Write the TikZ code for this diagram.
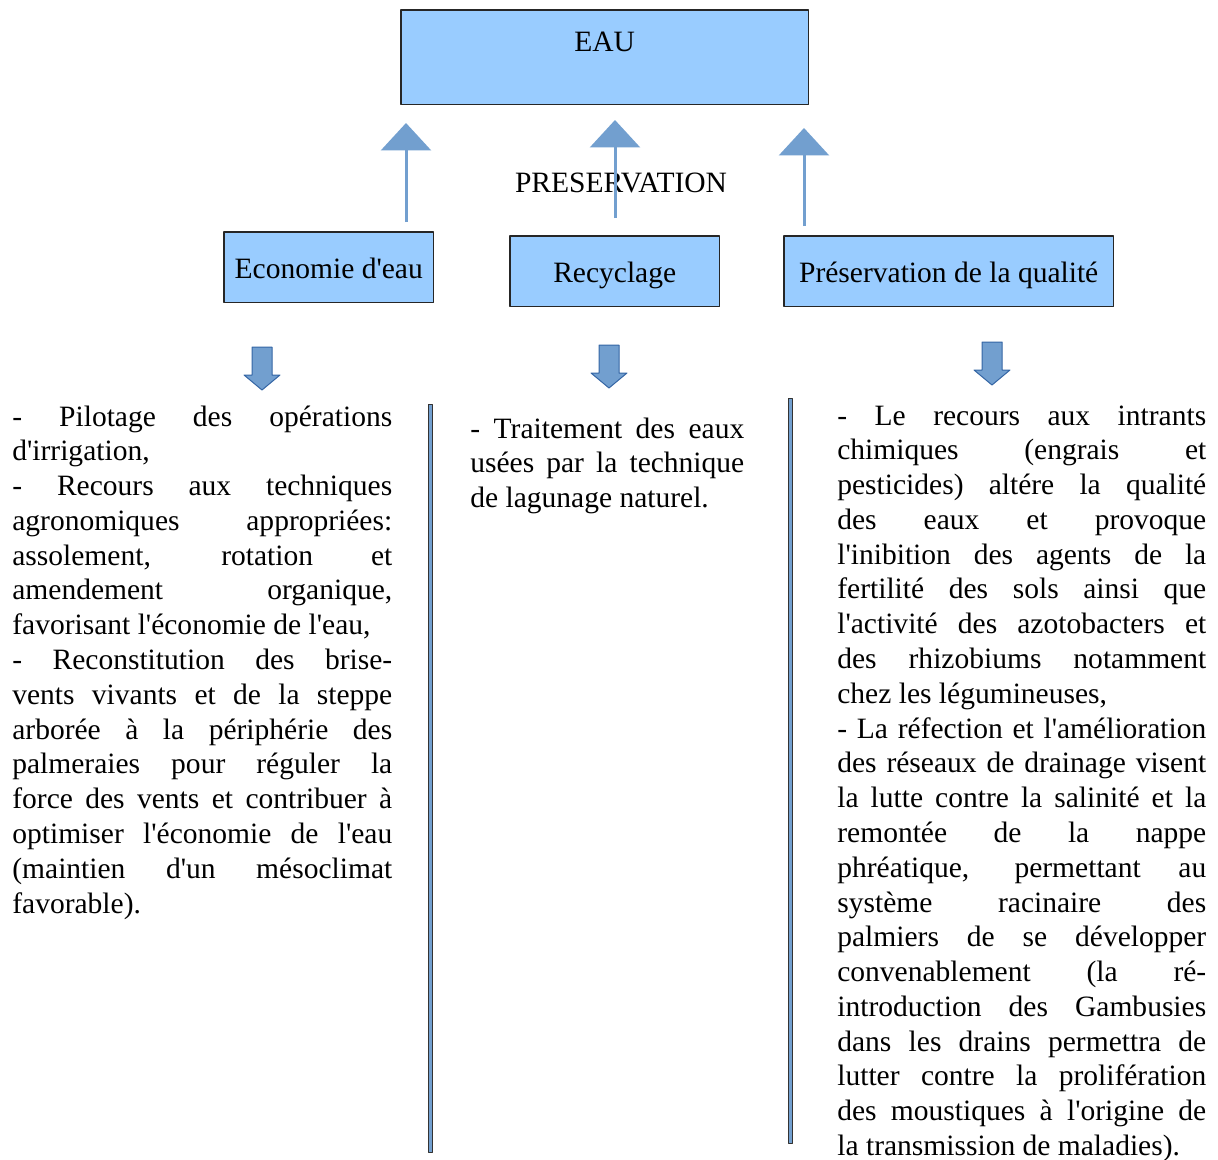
\documentclass[tikz,border=0pt]{standalone}
\usepackage{fontspec}
\setmainfont{Liberation Serif}[Ligatures=TeXOff]
\usetikzlibrary{arrows.meta}
\definecolor{boxblue}{RGB}{153,204,255}
\definecolor{arrowblue}{RGB}{114,159,207}
\definecolor{arrowedge}{RGB}{52,101,164}
\tolerance=10000 \hbadness=10000 \hyphenpenalty=10000
\begin{document}
\begin{tikzpicture}[x=0.02cm, y=-0.02cm, line join=round, font=\fontsize{16.8}{19.8}\selectfont,
		box/.style={draw=black!85, line width=0.03cm, fill=boxblue, inner sep=0pt, anchor=north west},
		cat/.style={box, text height=0.94cm, text depth=0.48cm},
		col/.style={anchor=base west, inner sep=0pt, align=justify},
		uparrow/.style={arrowblue, line width=0.06cm, -{Triangle[width=1cm, length=0.55cm]}},
		downarrow/.style={fill=arrowblue, draw=arrowedge, line width=0.02cm},
		sepline/.style={fill=arrowblue, draw=black!80, line width=0.02cm}]
	\useasboundingbox (0,0) rectangle (1218,1160);
	% titre et rubriques
	\node[box, minimum width=8.16cm, text height=0.84cm, text depth=1.06cm] (eau) at (400,9) {EAU};
	\node[anchor=base] (pres) at (621,192) {PRESERVATION};
	\node[cat, minimum width=4.2cm] (econ) at (223,231) {Economie d'eau};
	\node[cat, minimum width=4.2cm] (recy) at (509,235) {Recyclage};
	\node[cat, minimum width=6.6cm] (qual) at (783,235) {Préservation de la qualité};
	% fleches vers EAU
	\foreach \x/\a/\b [count=\i] in {406/222/123, 615/218/120, 804/226/128} {
		\coordinate (s\i) at (\x,\a); \coordinate (t\i) at (\x,\b);
		\draw[uparrow] (s\i)--(t\i);
	}
	% fleches vers le bas
	\foreach \x/\y in {262/347, 609/345, 992/342}
		\draw[downarrow] (\x-10,\y)--++(20,0)--++(0,28)--++(8,0)--(\x,\y+43)--++(-18,-15)--++(8,0)--cycle;
	% separateurs
	\foreach \x/\a/\b in {430/404/1152, 790/398/1143} \draw[sepline] (\x-2,\a) rectangle (\x+2,\b);
	% colonnes de texte
	\node[col, text width=7.6cm] (txecon) at (12,426) {- Pilotage des opérations\linebreak
		d'irrigation,\par
		- Recours aux techniques\linebreak
		agronomiques appropriées:\linebreak
		assolement, rotation et\linebreak
		amendement organique,\linebreak
		favorisant l'économie de l'eau,\par
		- Reconstitution des brise-\linebreak
		vents vivants et de la steppe\linebreak
		arborée à la périphérie des\linebreak
		palmeraies pour réguler la\linebreak
		force des vents et contribuer à\linebreak
		optimiser l'économie de l'eau\linebreak
		(maintien d'un mésoclimat\linebreak
		favorable).};
	\node[col, text width=5.48cm] (txrecy) at (470,438) {- Traitement des eaux\linebreak
		usées par la technique\linebreak
		de lagunage naturel.};
	\node[col, text width=7.38cm] (txqual) at (837,425) {- Le recours aux intrants\linebreak
		chimiques (engrais et\linebreak
		pesticides) altére la qualité\linebreak
		des eaux et provoque\linebreak
		l'inibition des agents de la\linebreak
		fertilité des sols ainsi que\linebreak
		l'activité des azotobacters et\linebreak
		des rhizobiums notamment\linebreak
		chez les légumineuses,\par
		- La réfection et l'amélioration\linebreak
		des réseaux de drainage visent\linebreak
		la lutte contre la salinité et la\linebreak
		remontée de la nappe\linebreak
		phréatique, permettant au\linebreak
		système racinaire des\linebreak
		palmiers de se développer\linebreak
		convenablement (la ré-\linebreak
		introduction des Gambusies\linebreak
		dans les drains permettra de\linebreak
		lutter contre la prolifération\linebreak
		des moustiques à l'origine de\linebreak
		la transmission de maladies).};
\end{tikzpicture}
\end{document}
